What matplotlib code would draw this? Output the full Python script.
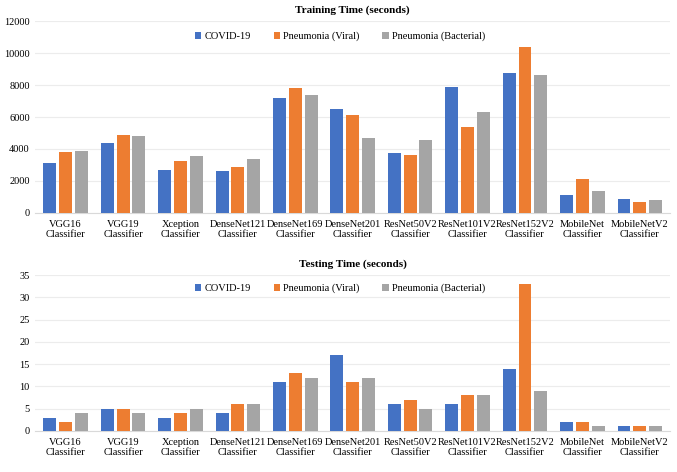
import matplotlib.pyplot as plt
import numpy as np

models = ['VGG16\nClassifier', 'VGG19\nClassifier', 'Xception\nClassifier',
          'DenseNet121\nClassifier', 'DenseNet169\nClassifier', 'DenseNet201\nClassifier',
          'ResNet50V2\nClassifier', 'ResNet101V2\nClassifier', 'ResNet152V2\nClassifier',
          'MobileNet\nClassifier', 'MobileNetV2\nClassifier']
series = ['COVID-19', 'Pneumonia (Viral)', 'Pneumonia (Bacterial)']

train_covid = [3100, 4400, 2700, 2600, 7200, 6500, 3750, 7900, 8750, 1150, 850]
train_viral = [3800, 4850, 3250, 2900, 7850, 6150, 3600, 5350, 10400, 2100, 700]
train_bact = [3900, 4800, 3550, 3350, 7350, 4700, 4550, 6300, 8650, 1350, 800]

test_covid = [3, 5, 3, 4, 11, 17, 6, 6, 14, 2, 1]
test_viral = [2, 5, 4, 6, 13, 11, 7, 8, 33, 2, 1]
test_bact = [4, 4, 5, 6, 12, 12, 5, 8, 9, 1, 1]

colors = ['#4472C4', '#ED7D31', '#A5A5A5']
serif = 'Liberation Serif'

fig = plt.figure(figsize=(6.77, 4.72), dpi=100)
ax1 = fig.add_axes([0.052, 0.549, 0.938, 0.406])
ax2 = fig.add_axes([0.052, 0.087, 0.938, 0.330])


def draw(ax, data, title, ymax, step, title_y, leg_y):
    x = np.arange(len(models))
    w = 0.225
    for i, (vals, c, name) in enumerate(zip(data, colors, series)):
        ax.bar(x + (i - 1) * 0.275, vals, w, color=c, label=name, zorder=3)
    ax.set_xlim(-0.53, len(models) - 0.47)
    ax.set_ylim(0, ymax)
    ax.set_yticks(np.arange(0, ymax + 1, step))
    ax.set_xticks(x)
    ax.set_xticklabels(models, fontsize=7.5, fontfamily=serif, linespacing=1.15)
    for lbl in ax.get_yticklabels():
        lbl.set_fontfamily(serif)
        lbl.set_fontsize(7.5)
    ax.tick_params(axis='x', length=0, pad=5)
    ax.tick_params(axis='y', length=0, pad=4)
    ax.grid(axis='y', color='#ececec', linewidth=0.8, zorder=0)
    for s in ['top', 'right', 'left']:
        ax.spines[s].set_visible(False)
    ax.spines['bottom'].set_color('#d9d9d9')
    ax.text(0.5, title_y, title, transform=ax.transAxes, ha='center', va='center',
            fontsize=8, fontweight='bold', fontfamily=serif)
    ax.legend(loc='upper center', bbox_to_anchor=(0.48, leg_y), ncol=3, frameon=False,
              prop={'family': serif, 'size': 7.5}, handlelength=0.6, handleheight=0.6,
              handletextpad=0.3, columnspacing=2.2)


draw(ax1, [train_covid, train_viral, train_bact], 'Training Time (seconds)', 12000, 2000, 1.06, 0.995)
draw(ax2, [test_covid, test_viral, test_bact], 'Testing Time (seconds)', 35, 5, 1.07, 1.005)

fig.savefig('out.png', dpi=100)
